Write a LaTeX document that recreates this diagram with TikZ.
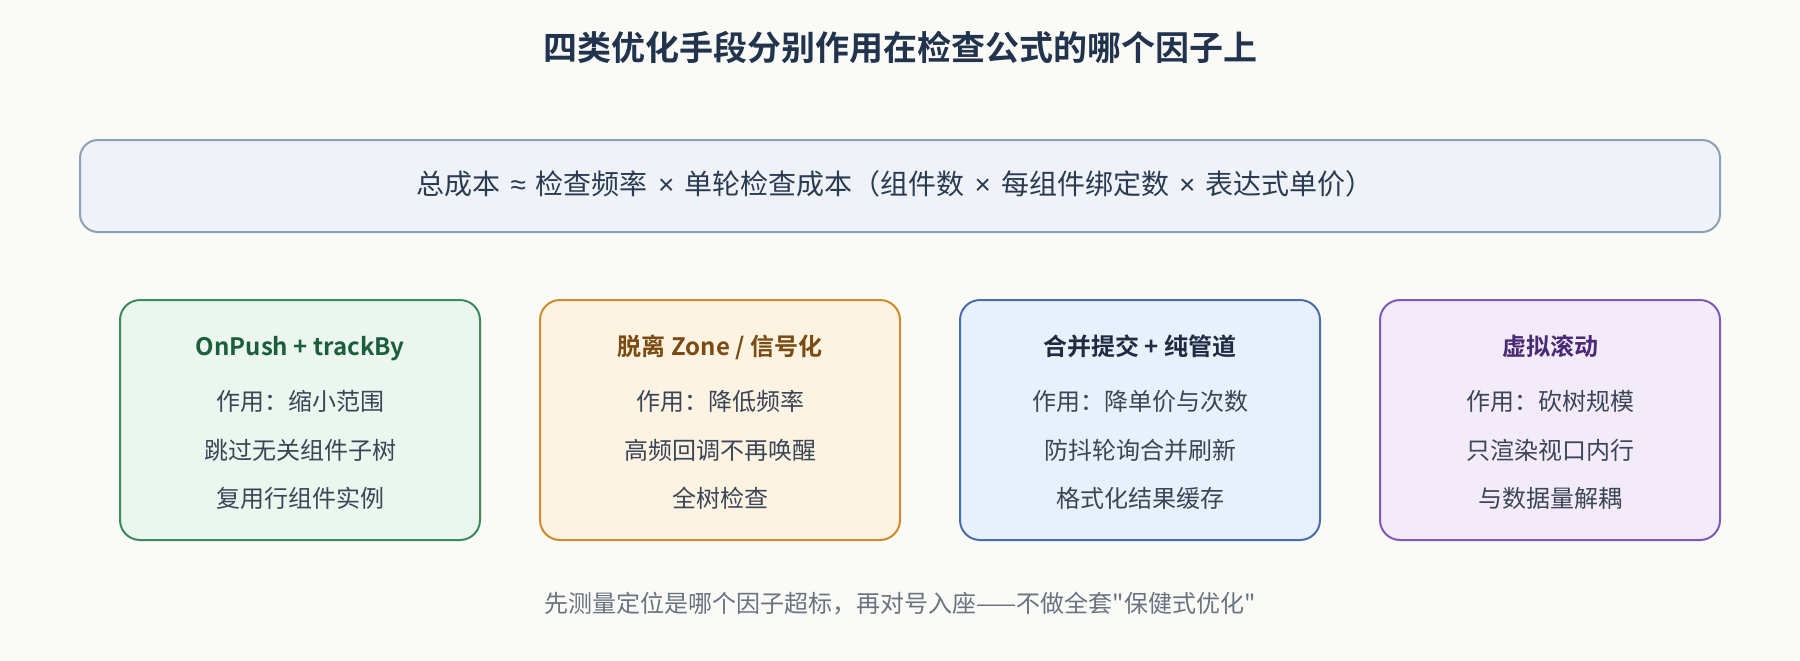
\documentclass[tikz,border=0pt]{standalone}
\usepackage{fontspec}
\setmainfont{Noto Sans CJK SC}[BoldFont={Noto Sans CJK SC Bold}]
\newfontfamily\cjk{Noto Sans CJK SC}[BoldFont={Noto Sans CJK SC Bold}]
\newfontfamily\lat{Liberation Sans}
\newcommand{\op}[1]{{\lat\hspace{0.36em}#1\hspace{0.36em}}}
\definecolor{bgc}{HTML}{FAFAF6}
\definecolor{titlec}{HTML}{22334D}
\definecolor{bodyc}{HTML}{3A4556}
\definecolor{footc}{HTML}{6B7280}
\definecolor{fxfill}{HTML}{EFF3F9}
\definecolor{fxdraw}{HTML}{8E9FB7}
\definecolor{fxtext}{HTML}{2A3A50}
\definecolor{gfill}{HTML}{EAF6EE}
\definecolor{gdraw}{HTML}{3C8A5E}
\definecolor{gtext}{HTML}{1B5E3B}
\definecolor{ofill}{HTML}{FDF3E3}
\definecolor{odraw}{HTML}{CF8B2E}
\definecolor{otext}{HTML}{7A4B12}
\definecolor{bfill}{HTML}{E8F0FD}
\definecolor{bdraw}{HTML}{4A6FA8}
\definecolor{btext}{HTML}{1E2B40}
\definecolor{pfill}{HTML}{F3EBFA}
\definecolor{pdraw}{HTML}{7E5BB8}
\definecolor{ptext}{HTML}{4A2A74}
\tikzset{
  txt/.style={inner sep=0pt, text height=0.88em, text depth=0.12em},
  titletxt/.style={txt, font=\cjk\fontsize{17pt}{20pt}\selectfont\bfseries, text=titlec},
  fxtxt/.style={txt, font=\cjk\fontsize{14pt}{17pt}\selectfont, text=fxtext},
  headtxt/.style={txt, font=\cjk\fontsize{12pt}{14pt}\selectfont\bfseries},
  bodytxt/.style={txt, font=\cjk\fontsize{12pt}{14pt}\selectfont, text=bodyc},
  foottxt/.style={txt, font=\cjk\fontsize{12pt}{14pt}\selectfont, text=footc},
  card/.style={draw, line width=1pt, rounded corners=10pt},
}
\begin{document}
\begin{tikzpicture}[x=0.5pt,y=-0.5pt]
\fill[bgc] (0,0) rectangle (1800,660);
\useasboundingbox (0,0) rectangle (1800,660);
% title
\node[titletxt] (title) at (900,53) {四类优化手段分别作用在检查公式的哪个因子上};
% formula box
\draw[card, fill=fxfill, draw=fxdraw, rounded corners=9pt] (80,140) rectangle (1720,232);
\node[fxtxt] (formula) at (895,187) {总成本\op{≈}检查频率\op{×}单轮检查成本（组件数\op{×}每组件绑定数\op{×}表达式单价）};
% cards
\draw[card, fill=gfill, draw=gdraw] (120,300) rectangle (480,540);
\draw[card, fill=ofill, draw=odraw] (540,300) rectangle (900,540);
\draw[card, fill=bfill, draw=bdraw] (960,300) rectangle (1320,540);
\draw[card, fill=pfill, draw=pdraw] (1380,300) rectangle (1720,540);
% card 1
\node[headtxt, text=gtext] (h1) at (300,348) {OnPush + trackBy};
\node[bodytxt] (a1) at (300,403) {作用：缩小范围};
\node[bodytxt] (b1) at (300,452) {跳过无关组件子树};
\node[bodytxt] (c1) at (300,500) {复用行组件实例};
% card 2
\node[headtxt, text=otext] (h2) at (720,348) {脱离 Zone / 信号化};
\node[bodytxt] (a2) at (720,403) {作用：降低频率};
\node[bodytxt] (b2) at (720,452) {高频回调不再唤醒};
\node[bodytxt] (c2) at (720,500) {全树检查};
% card 3
\node[headtxt, text=btext] (h3) at (1140,348) {合并提交 + 纯管道};
\node[bodytxt] (a3) at (1140,403) {作用：降单价与次数};
\node[bodytxt] (b3) at (1140,452) {防抖轮询合并刷新};
\node[bodytxt] (c3) at (1140,500) {格式化结果缓存};
% card 4
\node[headtxt, text=ptext] (h4) at (1550,348) {虚拟滚动};
\node[bodytxt] (a4) at (1550,403) {作用：砍树规模};
\node[bodytxt] (b4) at (1550,452) {只渲染视口内行};
\node[bodytxt] (c4) at (1550,500) {与数据量解耦};
% footer
\node[foottxt] (foot) at (900,605) {先测量定位是哪个因子超标，再对号入座——不做全套"保健式优化"};
\end{tikzpicture}
\end{document}
